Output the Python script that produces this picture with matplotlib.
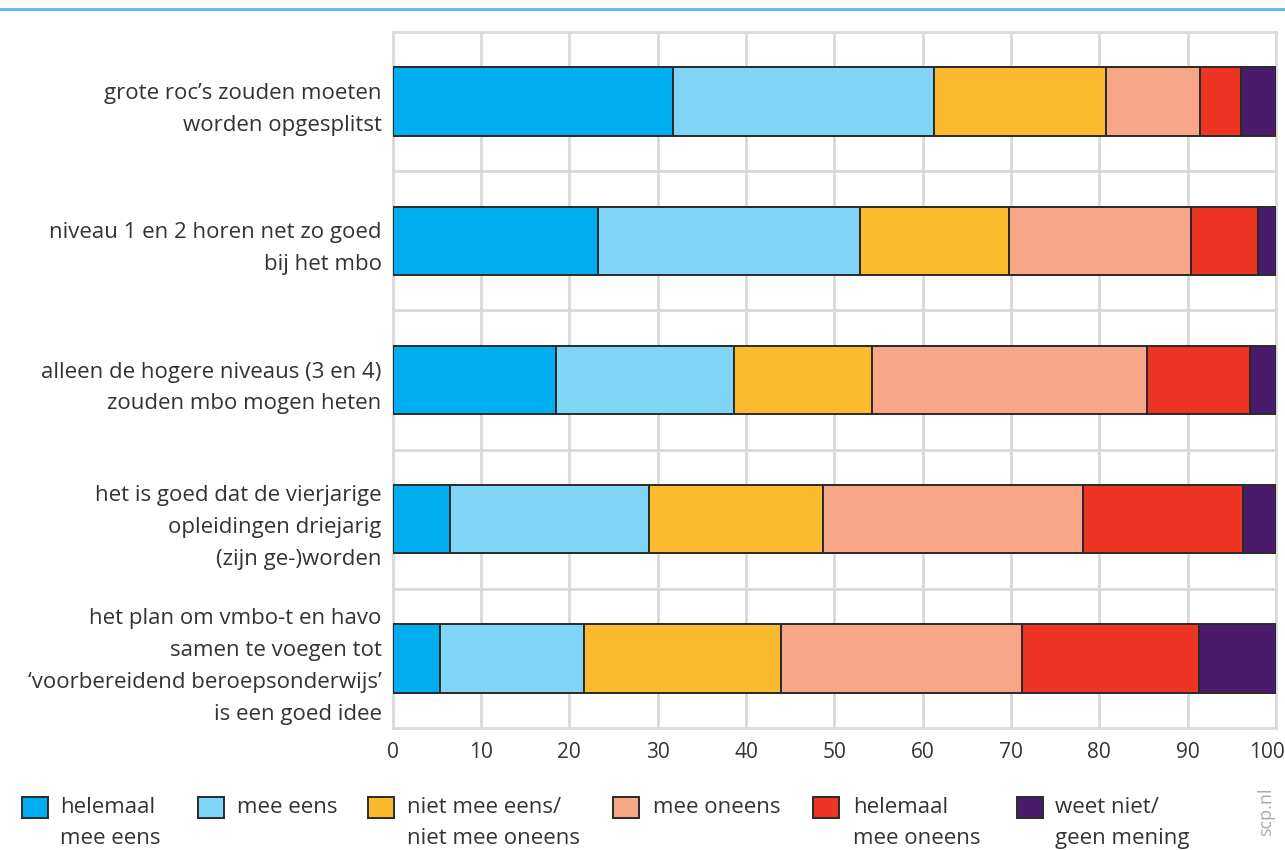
import matplotlib.pyplot as plt
from matplotlib.patches import Rectangle
from matplotlib.lines import Line2D
import matplotlib.transforms as mtransforms
import numpy as np

plt.rcParams['font.family'] = ['Open Sans', 'DejaVu Sans']

# statements (top to bottom)
statements = [
    'grote roc\u2019s zouden moeten\nworden opgesplitst',
    'niveau 1 en 2 horen net zo goed\nbij het mbo',
    'alleen de hogere niveaus (3 en 4)\nzouden mbo mogen heten',
    'het is goed dat de vierjarige\nopleidingen driejarig\n(zijn ge-)worden',
    'het plan om vmbo-t en havo\nsamen te voegen tot\n\u2018voorbereidend beroepsonderwijs\u2019\nis een goed idee',
]

categories = ['helemaal\nmee eens', 'mee eens', 'niet mee eens/\nniet mee oneens',
              'mee oneens', 'helemaal\nmee oneens', 'weet niet/\ngeen mening']
colors = ['#00aeef', '#80d4f6', '#fcba2f', '#f7a688', '#ee3524', '#4a1a6b']

# percentages per answer category
helemaal_mee_eens = [31.7, 23.2, 18.5, 6.5, 5.4]
mee_eens = [29.6, 29.7, 20.1, 22.5, 16.3]
neutraal = [19.5, 16.9, 15.7, 19.7, 22.3]
mee_oneens = [10.6, 20.6, 31.1, 29.4, 27.2]
helemaal_mee_oneens = [4.6, 7.6, 11.6, 18.2, 20.1]
weet_niet = [4.0, 2.0, 3.0, 3.7, 8.7]

series = [helemaal_mee_eens, mee_eens, neutraal, mee_oneens,
          helemaal_mee_oneens, weet_niet]

W, H = 1285, 850
fig = plt.figure(figsize=(W / 100, H / 100), dpi=100)
ax = fig.add_axes([392.7 / W, 1 - 728 / H, (1276 - 392.7) / W, (728 - 32) / H])

y = np.arange(len(statements))
left = np.zeros(len(statements))
for vals, c in zip(series, colors):
    ax.barh(y, vals, left=left, height=0.49, color=c, edgecolor='#2a2a2a',
            linewidth=1.4, zorder=3)
    left += np.array(vals)

ax.set_xlim(0, 100)
ax.set_ylim(len(statements) - 0.5, -0.5)
ax.set_xticks(range(0, 101, 10))
ax.set_yticks(y, statements)
ax.set_yticks(np.arange(0.5, len(statements) - 0.5), minor=True)
ax.grid(axis='x', color='#d9d9d9', lw=2, zorder=0)
ax.grid(axis='y', which='minor', color='#d9d9d9', lw=2, zorder=0)
for s in ax.spines.values():
    s.set_color('#d9d9d9')
    s.set_linewidth(2)
ax.tick_params(axis='both', which='both', length=0, colors='#333333')
ax.tick_params(axis='x', pad=10, labelsize=15)
ax.tick_params(axis='y', pad=8, labelsize=16)
for lbl in ax.get_yticklabels():
    lbl.set_linespacing(1.68)

# keep the "100" inside the figure
fig.canvas.draw()
last = ax.get_xticklabels()[-1]
last.set_transform(last.get_transform() +
                   mtransforms.ScaledTranslation(-9 / 100, 0, fig.dpi_scale_trans))

# thin blue rule at the top
fig.add_artist(Line2D([0, 1], [1 - 8.5 / H, 1 - 8.5 / H], transform=fig.transFigure,
                      color='#5ab4e5', lw=2))

# legend
sq_x = [22, 198, 368, 613, 813, 1017]
txt_x = [60, 237, 407, 653, 853, 1055]
for sx, tx, lab, c in zip(sq_x, txt_x, categories, colors):
    fig.add_artist(Rectangle((sx / W, 1 - 818 / H), 26 / W, 21 / H,
                             transform=fig.transFigure, facecolor=c,
                             edgecolor='#2a2a2a', lw=1.4))
    fig.text(tx / W, 1 - 797 / H, lab, ha='left', va='top', fontsize=16,
             color='#333333', linespacing=1.6)

fig.text(1266 / W, 1 - 812 / H, 'scp.nl', rotation=90, ha='center', va='center',
         fontsize=13, color='#aaaaaa')

fig.savefig('out.png', dpi=100)
